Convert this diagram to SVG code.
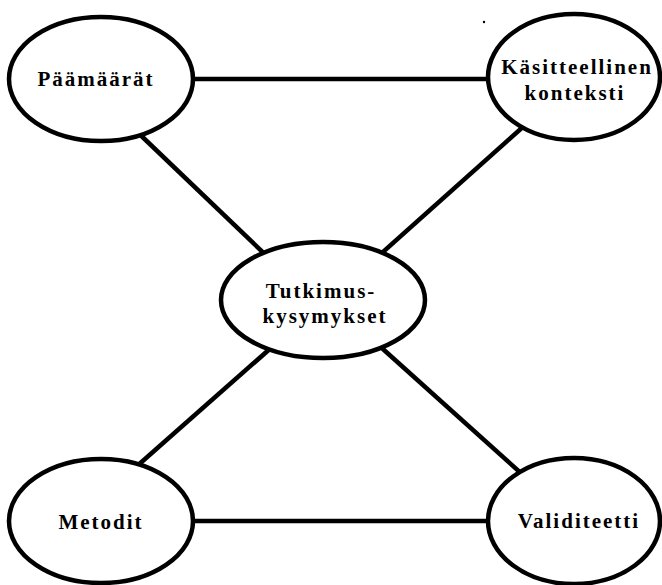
<svg xmlns="http://www.w3.org/2000/svg" width="662" height="585" viewBox="0 0 662 585">
<style>
.c{stroke:#000;stroke-width:4.5;fill:none}
.n ellipse{fill:#fff;stroke:#000;stroke-width:4.5}
.n text{font-family:"Liberation Serif","Times New Roman",serif;font-weight:bold;font-size:21px;letter-spacing:2px;text-anchor:middle;fill:#000}
</style>
<rect width="662" height="585" fill="#fff"/>
<circle cx="484" cy="22" r="1.2" fill="#000"/>
<g id="connectors">
<line class="c" x1="150" y1="79" x2="530" y2="79"/>
<line class="c" x1="150" y1="521" x2="530" y2="521"/>
<line class="c" x1="131" y1="126" x2="272" y2="261"/>
<line class="c" x1="533" y1="118" x2="374" y2="260"/>
<line class="c" x1="128" y1="474" x2="272" y2="347"/>
<line class="c" x1="374" y1="341" x2="533" y2="484"/>
</g>
<g id="paamaarat" class="n">
<ellipse cx="101" cy="79" rx="92" ry="62"/>
<text x="96" y="86">Päämäärät</text>
</g>
<g id="kasitteellinen" class="n">
<ellipse cx="574" cy="77" rx="86" ry="63"/>
<text x="577" y="74">Käsitteellinen</text>
<text x="575" y="100">konteksti</text>
</g>
<g id="tutkimuskysymykset" class="n">
<ellipse cx="323" cy="300" rx="102" ry="58"/>
<text x="321" y="298">Tutkimus-</text>
<text x="325" y="323">kysymykset</text>
</g>
<g id="metodit" class="n">
<ellipse cx="101" cy="521" rx="92" ry="62"/>
<text x="101" y="529">Metodit</text>
</g>
<g id="validiteetti" class="n">
<ellipse cx="574" cy="521" rx="86" ry="63"/>
<text x="579" y="528">Validiteetti</text>
</g>
</svg>
